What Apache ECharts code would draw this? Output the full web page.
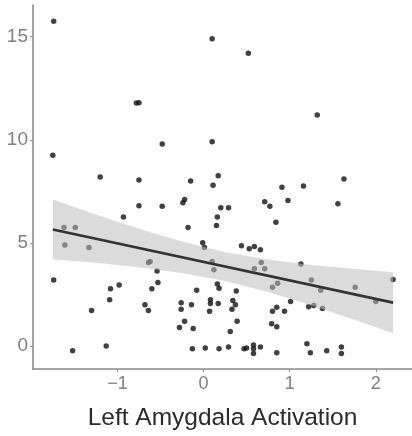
<!DOCTYPE html>
<html><head><meta charset="utf-8">
<script src="https://cdn.jsdelivr.net/npm/echarts@6/dist/echarts.min.js"></script>
<style>html,body{margin:0;padding:0;background:#fff}#c{width:412px;height:436px}</style>
</head><body><div id="c"></div>
<script>
const xVals = [-1.74,-0.78,-0.75,0.10,0.52,-0.48,0.10,1.32,-1.75,-1.20,-0.75,-0.75,-0.93,-1.62,-1.49,-1.61,-1.33,-1.74,-0.15,0.17,0.11,-0.24,-0.22,-0.48,0.20,0.29,0.71,0.77,0.16,0.15,-0.18,-0.01,0.01,0.44,0.53,0.59,0.66,-0.64,-0.62,-0.54,0.10,0.12,0.67,0.59,0.71,0.91,1.16,1.63,0.98,1.56,0.84,1.13,-0.98,-1.08,-1.09,-1.30,-1.13,-1.52,-0.53,-0.60,-0.08,0.16,0.18,0.38,-0.68,-0.64,-0.26,-0.26,-0.14,0.08,0.08,0.07,0.17,0.34,0.37,0.33,-0.22,-0.28,-0.12,0.39,0.31,-0.13,0.02,0.18,0.29,0.47,0.50,0.58,0.58,0.58,0.66,0.79,0.85,1.25,1.76,1.36,2.00,0.86,0.80,2.20,1.01,0.85,0.94,0.80,1.22,1.28,1.38,1.20,1.24,1.43,1.60,1.60,0.85];
const yVals = [15.75,11.78,11.8,14.9,14.2,9.8,9.9,11.2,9.25,8.2,8.05,6.8,6.26,5.75,5.75,4.9,4.77,3.2,8.0,8.26,7.8,6.95,7.1,6.77,6.7,6.7,7.0,6.78,6.26,5.84,5.74,5.0,4.77,4.86,4.72,4.82,4.67,4.05,4.1,3.64,4.1,3.7,4.05,3.74,3.74,7.7,7.76,8.1,7.05,6.9,6.0,3.97,2.96,2.77,2.24,1.72,0.0,-0.23,3.08,2.77,2.7,3.0,2.8,2.66,2.0,1.72,2.1,1.78,2.0,2.24,2.06,1.68,2.06,2.2,2.0,1.78,1.2,0.89,0.84,1.2,0.7,-0.14,-0.1,-0.14,-0.05,-0.14,-0.1,0.05,-0.14,-0.37,-0.05,1.07,0.93,3.2,2.85,2.7,2.15,3.04,2.85,3.22,2.15,1.87,1.68,1.68,1.9,1.96,1.82,0.1,-0.33,-0.23,-0.05,-0.37,-0.33];

const fitX = [-1.75, 2.2];
const fitY = [5.65, 2.1];
const bandX = [-1.75,-1.25,-0.75,-0.25,0.25,0.75,1.25,1.75,2.2];
const bandLow = [4.2,4.03,3.82,3.54,3.15,2.61,1.97,1.27,0.62];
const bandHigh = [7.1,6.38,5.68,5.06,4.55,4.19,3.93,3.73,3.58];

const xTicks = [-1,0,1,2];
const yTicks = [0,5,10,15];
const xTitle = 'Left Amygdala Activation';

const pts = xVals.map((x,i)=>[x,yVals[i]]);
const bandData = bandX.map((x,i)=>[x,bandLow[i],bandHigh[i]]);
const fmt = v => (v<0 ? '\u2212' + Math.abs(v) : String(v));

const chart = echarts.init(document.getElementById('c'), null, {renderer:'canvas'});
const axisCol = '#8c8c8c';
chart.setOption({
  animation:false,
  backgroundColor:'#fff',
  grid:{left:33, top:5, width:379, height:379, containLabel:false},
  xAxis:{type:'value', min:-1.98, max:2.42,
    axisLine:{show:true, onZero:false, lineStyle:{color:axisCol, width:1.6}},
    axisTick:{show:true, customValues:xTicks, length:3, lineStyle:{color:axisCol}},
    axisLabel:{customValues:xTicks, formatter:fmt, color:'#808080', fontSize:18, fontFamily:'Liberation Sans, Arial', margin:6},
    splitLine:{show:false},
    name:xTitle, nameLocation:'middle', nameGap:37,
    nameTextStyle:{color:'#2b2b2b', fontSize:24.5, fontFamily:'Liberation Sans, Arial'}
  },
  yAxis:{type:'value', min:-1.12, max:16.54,
    axisLine:{show:true, onZero:false, lineStyle:{color:axisCol, width:1.6}},
    axisTick:{show:true, customValues:yTicks, length:3, lineStyle:{color:axisCol}},
    axisLabel:{customValues:yTicks, color:'#808080', fontSize:19, fontFamily:'Liberation Sans, Arial', margin:5},
    splitLine:{show:false}
  },
  series:[
    {type:'scatter', data:pts, symbolSize:5.5, itemStyle:{color:'#111'}, z:2},
    {type:'custom', z:3, data:bandData,
      renderItem:function(params, api){
        if(params.dataIndex!==0) return null;
        const top=[], bot=[];
        for(const d of bandData){ top.push(api.coord([d[0],d[2]])); bot.push(api.coord([d[0],d[1]])); }
        return {type:'polygon', shape:{points: top.concat(bot.reverse())},
          style:{fill:'rgba(190,190,190,0.55)'}};
      }
    },
    {type:'line', data:fitX.map((x,i)=>[x,fitY[i]]), symbol:'none', z:4,
      lineStyle:{color:'#333', width:2.6}}
  ]
});
</script></body></html>
